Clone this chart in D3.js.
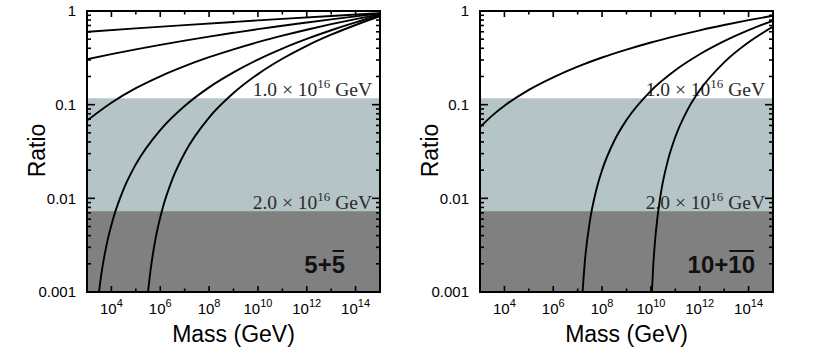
<!DOCTYPE html>
<html>
<head>
<meta charset="utf-8">
<script src="https://cdn.jsdelivr.net/npm/d3@7"></script>
<style>
  body { margin: 0; background: #fff; }
  text { font-family: "Liberation Sans", Arial, sans-serif; }
</style>
</head>
<body>
<div id="plot"></div>
<script>
// curves as [log10 mass (GeV), ratio]
const fiveCurve1 = [[3,0.600],[5,0.652],[7,0.707],[9,0.764],[11,0.824],[13,0.885],[15,0.948]];
const fiveCurve2 = [[3,0.305],[4,0.346],[5,0.389],[6,0.435],[7,0.483],[8,0.533],[9,0.585],[10,0.640],[11,0.695],[12,0.753],[13,0.814],[14,0.876],[15,0.940]];
const fiveCurve3 = [[3,0.0676],[4,0.105],[5,0.150],[6,0.201],[7,0.258],[8,0.321],[9,0.390],[10,0.465],[11,0.545],[12,0.631],[13,0.723],[14,0.819],[15,0.920]];
const fiveCurve4 = [[3.49,0.001],[3.6,0.00163],[3.8,0.00317],[4.1,0.00643],[4.5,0.01256],[5,0.0231],[6,0.0536],[7,0.0968],[8,0.153],[9,0.221],[10,0.303],[11,0.397],[12,0.503],[13,0.623],[14,0.755],[15,0.900]];
const fiveCurve5 = [[5.5,0.001],[5.6,0.00169],[5.8,0.00362],[6.1,0.00789],[6.5,0.0161],[7,0.0305],[8,0.0729],[9,0.133],[10,0.212],[11,0.309],[12,0.425],[13,0.558],[14,0.709],[15,0.879]];

const tenCurve1 = [[3,0.0575],[3.5,0.0764],[4,0.0972],[5,0.144],[6,0.196],[7,0.255],[8,0.319],[9,0.387],[10,0.461],[11,0.539],[12,0.622],[13,0.708],[14,0.798],[15,0.891]];
const tenCurve2 = [[7.2,0.001],[7.3,0.0022],[7.5,0.0057],[7.75,0.0119],[8,0.020],[8.5,0.0412],[9,0.0686],[10,0.1406],[11,0.233],[12,0.345],[13,0.476],[14,0.624],[15,0.789]];
const tenCurve3 = [[10.04,0.001],[10.1,0.0020],[10.2,0.0043],[10.4,0.0110],[10.7,0.0257],[11,0.0453],[11.5,0.0881],[12,0.1425],[13,0.283],[14,0.463],[15,0.680]];

// shaded bands (ratio ranges)
const lightBand = [0.0073, 0.117];
const darkBand = [0.001, 0.0073];
const bandLabels = ["1.0 × 10|16| GeV", "2.0 × 10|16| GeV"];

const xExponents = [3,4,5,6,7,8,9,10,11,12,13,14,15];
const xLabelExponents = [4,6,8,10,12,14];
const yTickValues = [1, 0.1, 0.01, 0.001];
const yTickLabels = ["1", "0.1", "0.01", "0.001"];

const W = 835, H = 354;
const svg = d3.select("#plot").append("svg")
    .attr("width", W).attr("height", H);

const panels = [
  { left: 87,  curves: [fiveCurve1, fiveCurve2, fiveCurve3, fiveCurve4, fiveCurve5], label: "5+5", bar: 1, labelRight: 35 },
  { left: 480, curves: [tenCurve1, tenCurve2, tenCurve3], label: "10+10", bar: 2, labelRight: 18 }
];

const pw = 293, plotTop = 11, plotBottom = 292;

panels.forEach((p, i) => {
  const g = svg.append("g").attr("transform", "translate(" + p.left + "," + plotTop + ")");
  const w = pw, h = plotBottom - plotTop;

  const x = d3.scaleLog().domain([1e3, 1e15]).range([0, w]);
  const y = d3.scaleLog().domain([0.001, 1]).range([h, 0]);

  const clipId = "clip" + i;
  g.append("clipPath").attr("id", clipId)
   .append("rect").attr("width", w).attr("height", h);

  // bands
  g.append("rect")
    .attr("x", 0).attr("width", w)
    .attr("y", y(lightBand[1])).attr("height", y(lightBand[0]) - y(lightBand[1]))
    .attr("fill", "#b5c4c6");
  g.append("rect")
    .attr("x", 0).attr("width", w)
    .attr("y", y(darkBand[1])).attr("height", y(darkBand[0]) - y(darkBand[1]))
    .attr("fill", "#808080");

  // band labels
  [lightBand[1], darkBand[1]].forEach((v, k) => {
    const parts = bandLabels[k].split("|");
    const t = g.append("text")
      .attr("x", w - 8).attr("y", y(v) - 2)
      .attr("text-anchor", "end")
      .style("font-family", "'Liberation Serif', 'Times New Roman', serif")
      .style("font-size", "19.5px")
      .attr("fill", "#2a2a2a");
    t.append("tspan").text(parts[0]);
    t.append("tspan").attr("dy", -8).style("font-size", "13px").text(parts[1]);
    t.append("tspan").attr("dy", 8).text(parts[2]);
  });

  // curves
  const line = d3.line()
    .x(d => x(Math.pow(10, d[0])))
    .y(d => y(d[1]))
    .curve(d3.curveMonotoneX);
  g.append("g").attr("clip-path", "url(#" + clipId + ")")
    .selectAll("path").data(p.curves).enter().append("path")
    .attr("d", line)
    .attr("fill", "none")
    .attr("stroke", "#000")
    .attr("stroke-width", 1.9);

  // x ticks (inward, top and bottom)
  const xt = g.append("g");
  xExponents.forEach(e => {
    const len = (e % 2 === 0) ? 6 : 3.5;
    const xv = x(Math.pow(10, e));
    xt.append("line").attr("x1", xv).attr("x2", xv).attr("y1", h).attr("y2", h - len);
    xt.append("line").attr("x1", xv).attr("x2", xv).attr("y1", 0).attr("y2", len);
  });
  // y ticks (inward, left and right)
  const yt = g.append("g");
  y.ticks().forEach(v => {
    const m = Math.round(v / Math.pow(10, Math.floor(Math.log10(v) + 1e-9)));
    const len = (m === 1) ? 8 : 4;
    const yv = y(v);
    yt.append("line").attr("x1", 0).attr("x2", len).attr("y1", yv).attr("y2", yv);
    yt.append("line").attr("x1", w).attr("x2", w - len).attr("y1", yv).attr("y2", yv);
  });
  g.selectAll("line").attr("stroke", "#000").attr("stroke-width", 1.6);

  // frame
  g.append("rect").attr("width", w).attr("height", h)
    .attr("fill", "none").attr("stroke", "#000").attr("stroke-width", 2);

  // y tick labels
  yTickValues.forEach((v, k) => {
    g.append("text")
      .attr("x", -11).attr("y", y(v)).attr("dy", "0.35em")
      .attr("text-anchor", "end")
      .style("font-size", "15px")
      .text(yTickLabels[k]);
  });

  // x tick labels
  xLabelExponents.forEach(e => {
    const t = g.append("text")
      .attr("x", x(Math.pow(10, e))).attr("y", h + 22)
      .attr("text-anchor", "middle")
      .style("font-size", "15px");
    t.append("tspan").text("10");
    t.append("tspan").attr("dy", -7).style("font-size", "11px").text(e);
  });

  // axis titles
  g.append("text")
    .attr("x", w / 2).attr("y", h + 50)
    .attr("text-anchor", "middle")
    .style("font-size", "23px")
    .text("Mass (GeV)");
  g.append("text")
    .attr("transform", "translate(-42," + (h / 2 - 1) + ") rotate(-90)")
    .attr("text-anchor", "middle")
    .style("font-size", "23px")
    .text("Ratio");

  // panel label with overline
  const lbl = g.append("text")
    .attr("x", w - p.labelRight).attr("y", 262)
    .attr("text-anchor", "end")
    .style("font-size", "24px")
    .style("font-weight", "bold")
    .attr("fill", "#111")
    .text(p.label);
  const node = lbl.node();
  const n = p.label.length;
  const first = node.getExtentOfChar(n - p.bar);
  const last = node.getExtentOfChar(n - 1);
  g.append("line")
    .attr("x1", first.x + 1).attr("x2", last.x + last.width - 1)
    .attr("y1", 240).attr("y2", 240)
    .attr("stroke", "#111").attr("stroke-width", 2);
});
</script>
</body>
</html>
